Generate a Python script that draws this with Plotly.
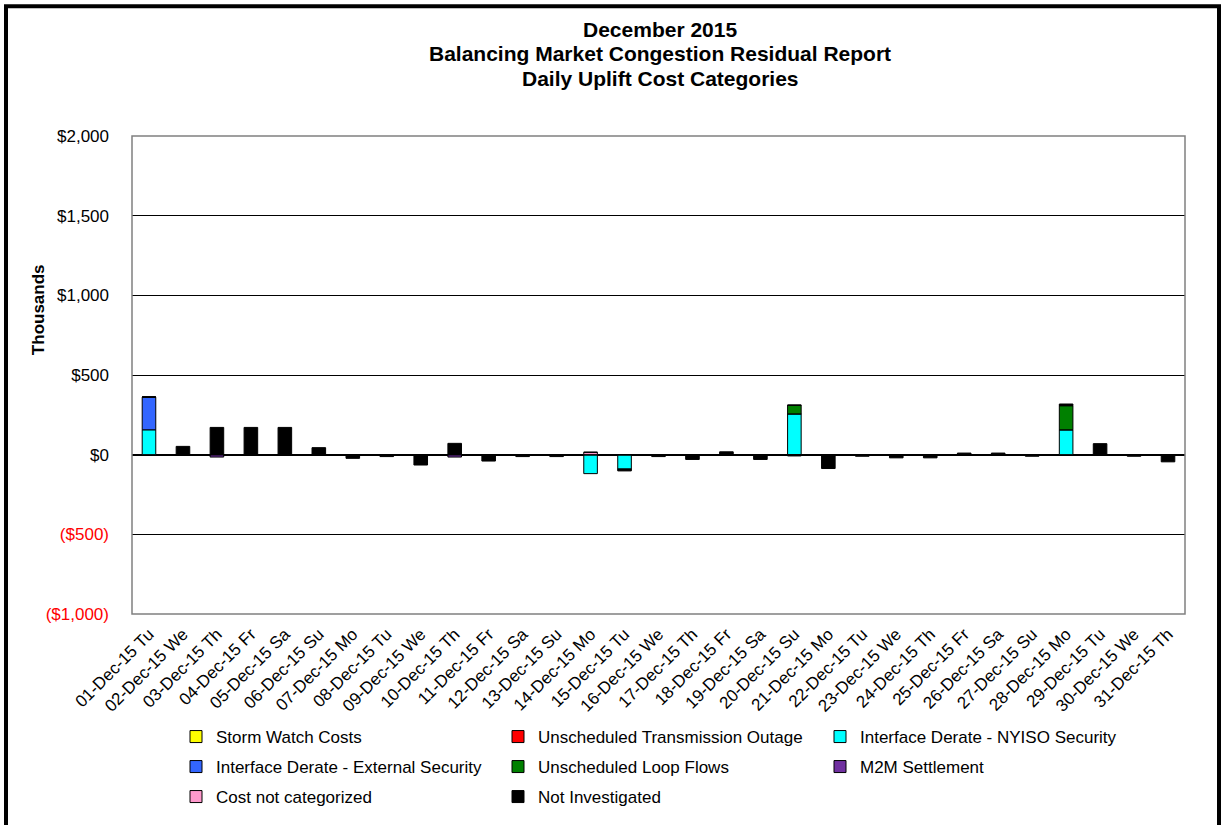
import plotly.graph_objects as go

days = ["01-Dec-15 Tu", "02-Dec-15 We", "03-Dec-15 Th", "04-Dec-15 Fr", "05-Dec-15 Sa",
        "06-Dec-15 Su", "07-Dec-15 Mo", "08-Dec-15 Tu", "09-Dec-15 We", "10-Dec-15 Th",
        "11-Dec-15 Fr", "12-Dec-15 Sa", "13-Dec-15 Su", "14-Dec-15 Mo", "15-Dec-15 Tu",
        "16-Dec-15 We", "17-Dec-15 Th", "18-Dec-15 Fr", "19-Dec-15 Sa", "20-Dec-15 Su",
        "21-Dec-15 Mo", "22-Dec-15 Tu", "23-Dec-15 We", "24-Dec-15 Th", "25-Dec-15 Fr",
        "26-Dec-15 Sa", "27-Dec-15 Su", "28-Dec-15 Mo", "29-Dec-15 Tu", "30-Dec-15 We",
        "31-Dec-15 Th"]

title_lines = ["December 2015", "Balancing Market Congestion Residual Report",
               "Daily Uplift Cost Categories"]

storm_watch = [0] * 31
unsched_trans_outage = [0] * 31
nyiso_security = [156, 0, 0, 0, 0, 0, 0, 0, 0, 0, 0, 0, 0, -119, -90, 0, 0, 0, 0, 256,
                  0, 0, 0, 0, 0, 0, 0, 156, 0, 0, 0]
external_security = [205, 0, 0, 0, 0, 0, 0, 0, 0, 0, 0, 0, 0, 0, 0, 0, 0, 0, 0, 0,
                     0, 0, 0, 0, 0, 0, 0, 0, 0, 0, 0]
loop_flows = [0, 0, 0, 0, 0, 0, 0, 0, 0, 0, 0, 0, 0, 0, 0, 0, 0, 0, 0, 54,
              0, 0, 0, 0, 0, 0, 0, 152, 0, 0, 0]
m2m_settlement = [0, 0, -15, 0, 0, 0, 0, 0, 0, -15, 0, 0, 0, 0, 0, 0, 0, 0, 0, 0,
                  0, 0, 0, 0, 0, 0, 0, 0, 0, 0, 0]
not_categorized = [0, 0, 0, 0, 0, 0, 0, 0, 0, 0, 0, 0, 0, 15, 0, 0, 0, 0, 0, 0,
                   0, 0, 0, 0, 0, 0, 0, 0, 0, 0, 0]
not_investigated = [0, 52, 171, 171, 171, 44, -23, -12, -65, 71, -40, -12, -12, 0, -12, -12,
                    -30, 18, -30, -8, -87, -10, -20, -20, 10, 10, -10, 10, 69, -10, -45]

series = [
    ("Storm Watch Costs", storm_watch, "#FFFF00", "legend"),
    ("Unscheduled Transmission Outage", unsched_trans_outage, "#FF0000", "legend"),
    ("Interface Derate - NYISO Security", nyiso_security, "#00FFFF", "legend"),
    ("Interface Derate - External Security", external_security, "#3366FF", "legend2"),
    ("Unscheduled Loop Flows", loop_flows, "#008000", "legend2"),
    ("M2M Settlement", m2m_settlement, "#7030A0", "legend2"),
    ("Cost not categorized", not_categorized, "#FF99CC", "legend3"),
    ("Not Investigated", not_investigated, "#000000", "legend3"),
]

y_ticks = [-1000, -500, 0, 500, 1000, 1500, 2000]
y_labels = ['<span style="color:#FF0000">($1,000)</span>',
            '<span style="color:#FF0000">($500)</span>',
            "$0", "$500", "$1,000", "$1,500", "$2,000"]

fig = go.Figure()
for name, vals, color, lg in series:
    fig.add_trace(go.Bar(x=days, y=vals, name=name, legend=lg,
                         marker=dict(color=color, line=dict(color="#000000", width=1))))

W, H = 1222, 825
L, R, T, B = 132, 37, 136, 210
pw, ph = W - L - R, H - T - B

def px(x):
    return (x - L) / pw

def py(y):
    return (H - B - y) / ph

FONT = "Liberation Sans, Arial"
legend_common = dict(orientation="h", entrywidth=277, entrywidthmode="pixels",
                     font=dict(family=FONT, size=17, color="#000000"),
                     bgcolor="rgba(0,0,0,0)", xanchor="left", yanchor="middle",
                     itemclick=False, traceorder="normal")

annotations = [
    dict(text="<b>Thousands</b>", x=px(27), y=py(310), xref="paper", yref="paper",
         textangle=-90, showarrow=False, font=dict(size=17)),
]
for line, ypix in zip(title_lines, [29, 53, 78]):
    annotations.append(dict(text="<b>" + line + "</b>", x=px(660), y=py(ypix),
                            xref="paper", yref="paper", xanchor="center", yanchor="middle",
                            showarrow=False, font=dict(size=21, family=FONT)))

fig.update_layout(
    width=W, height=H,
    margin=dict(l=L, r=R, t=T, b=B),
    paper_bgcolor="white", plot_bgcolor="white",
    barmode="relative", bargap=0.6,
    font=dict(family=FONT, size=17, color="#000000"),
    xaxis=dict(type="category", tickangle=-45, showgrid=False, showline=False,
               ticks="", tickfont=dict(size=17), range=[-0.5, 30.5], ticklabelstandoff=6),
    yaxis=dict(range=[-1000, 2000], tickvals=y_ticks, ticktext=y_labels,
               showgrid=True, gridcolor="#000000", gridwidth=1,
               zeroline=True, zerolinecolor="#000000", zerolinewidth=1.5,
               ticks="", ticklabelstandoff=22, tickfont=dict(size=17)),
    legend=dict(x=px(176), y=py(737), **legend_common),
    legend2=dict(x=px(176), y=py(767), **legend_common),
    legend3=dict(x=px(176), y=py(797), **legend_common),
    shapes=[
        dict(type="rect", xref="paper", yref="paper", x0=0, x1=1, y0=0, y1=1,
             line=dict(color="#808080", width=1.5), layer="above"),
        dict(type="rect", xref="paper", yref="paper", x0=px(6), x1=px(1219), y0=py(840), y1=py(6),
             line=dict(color="#000000", width=4)),
    ],
    annotations=annotations,
)

fig.write_html("out.html", config={"displayModeBar": False},
               post_script="document.body.style.margin='0';")
